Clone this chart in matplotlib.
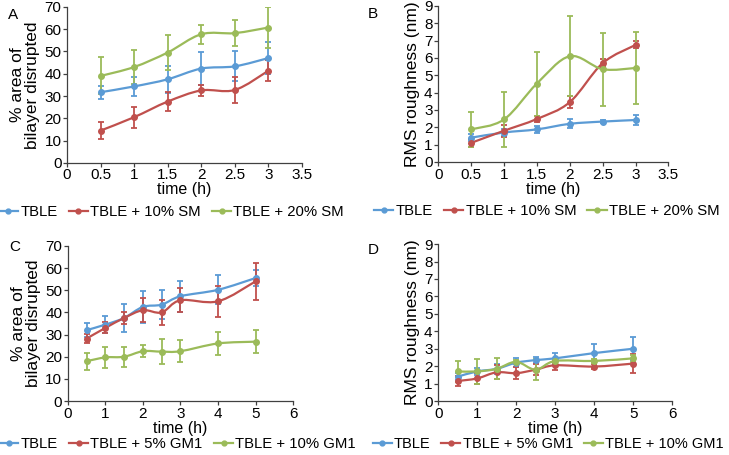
import numpy as np
import matplotlib
matplotlib.use("Agg")
import matplotlib.pyplot as plt
from matplotlib.path import Path
from matplotlib.patches import PathPatch
from matplotlib.lines import Line2D

plt.rcParams["font.family"] = ["Liberation Sans", "DejaVu Sans"]
plt.rcParams["font.size"] = 10

BLUE = "#5b9bd5"
RED = "#c0504d"
GREEN = "#9bbb59"

# panel A / B: SM series
t_sm = [0.5, 1, 1.5, 2, 2.5, 3]
a_tble = [31.7, 34.3, 37.5, 42.3, 43.3, 47.0]
a_tble_err = [3.0, 4.3, 6.0, 7.3, 6.7, 7.2]
a_sm10 = [14.5, 20.5, 27.5, 32.5, 32.7, 41.3]
a_sm10_err = [4.0, 4.7, 4.2, 2.5, 5.7, 4.7]
a_sm20 = [39.0, 43.0, 49.5, 57.7, 58.2, 60.7]
a_sm20_err = [8.3, 7.5, 7.7, 4.2, 5.7, 9.0]

b_tble = [1.4, 1.7, 1.88, 2.2, 2.33, 2.42]
b_tble_err = [0.2, 0.2, 0.22, 0.25, 0.08, 0.3]
b_sm10 = [1.1, 1.8, 2.48, 3.45, 5.7, 6.75]
b_sm10_err = [0.25, 0.35, 0.15, 0.35, 0.25, 0.2]
b_sm20 = [1.88, 2.45, 4.52, 6.1, 5.35, 5.42]
b_sm20_err = [1.0, 1.6, 1.85, 2.3, 2.1, 2.05]

# panel C / D: GM1 series
t_gm = [0.5, 1, 1.5, 2, 2.5, 3, 4, 5]
c_tble = [32.0, 34.5, 37.5, 42.5, 43.5, 47.3, 50.2, 55.5]
c_tble_err = [3.1, 4.0, 6.3, 7.3, 6.6, 7.0, 6.5, 3.8]
c_gm5 = [28.2, 33.0, 37.5, 41.0, 40.0, 45.5, 45.0, 54.0]
c_gm5_err = [2.0, 2.5, 2.5, 5.5, 5.8, 5.5, 7.0, 8.5]
c_gm10 = [18.0, 19.7, 20.0, 22.5, 22.3, 22.5, 26.0, 26.8]
c_gm10_err = [3.8, 4.8, 4.5, 2.7, 5.5, 5.0, 5.3, 5.2]

d_tble = [1.4, 1.7, 1.85, 2.2, 2.35, 2.45, 2.75, 3.0]
d_tble_err = [0.2, 0.2, 0.3, 0.25, 0.15, 0.3, 0.5, 0.65]
d_gm5 = [1.15, 1.3, 1.65, 1.6, 1.8, 2.05, 1.98, 2.15]
d_gm5_err = [0.3, 0.3, 0.4, 0.35, 0.3, 0.25, 0.12, 0.55]
d_gm10 = [1.7, 1.7, 1.85, 2.25, 1.8, 2.3, 2.3, 2.45]
d_gm10_err = [0.6, 0.7, 0.6, 0.1, 0.6, 0.1, 0.1, 0.2]


def smooth_line(ax, x, y, color):
    # excel-like smoothed line: cubic bezier through the points
    x = np.asarray(x, float)
    y = np.asarray(y, float)
    n = len(x)
    verts = [(x[0], y[0])]
    codes = [Path.MOVETO]
    for i in range(n - 1):
        i0 = max(i - 1, 0)
        i3 = min(i + 2, n - 1)
        c1 = (x[i] + (x[i + 1] - x[i0]) / 6, y[i] + (y[i + 1] - y[i0]) / 6)
        c2 = (x[i + 1] - (x[i3] - x[i]) / 6, y[i + 1] - (y[i3] - y[i]) / 6)
        verts += [c1, c2, (x[i + 1], y[i + 1])]
        codes += [Path.CURVE4] * 3
    ax.add_patch(PathPatch(Path(verts, codes), facecolor="none",
                           edgecolor=color, lw=1.6, zorder=2))


def panel(rect, t, series, ylim, yticks, xticks, ylabel):
    ax = fig.add_axes(rect)
    for y, e, c in series:
        ax.errorbar(t, y, yerr=e, fmt="none", ecolor=c, elinewidth=1.3,
                    capsize=2.5, capthick=1.3, zorder=3)
        smooth_line(ax, t, y, c)
        ax.plot(t, y, "o", color=c, ms=4, zorder=4)
    ax.set_xlim(xticks[0], xticks[-1])
    ax.set_ylim(*ylim)
    ax.set_xticks(xticks)
    ax.set_xticklabels([f"{v:g}" for v in xticks])
    ax.set_yticks(yticks)
    ax.spines["top"].set_visible(False)
    ax.spines["right"].set_visible(False)
    for s in ("left", "bottom"):
        ax.spines[s].set_color("#404040")
        ax.spines[s].set_linewidth(0.9)
    ax.tick_params(length=3, width=0.9, color="#404040", labelsize=11, pad=1)
    ax.set_xlabel("time (h)", fontsize=11.5, labelpad=0)
    ax.set_ylabel(ylabel, fontsize=12.5, labelpad=3, linespacing=1.0)
    return ax


fig = plt.figure(figsize=(7.29, 4.55), dpi=100)

sm_labels = ["TBLE", "TBLE + 10% SM", "TBLE + 20% SM"]
gm_labels = ["TBLE", "TBLE + 5% GM1", "TBLE + 10% GM1"]
colors = [BLUE, RED, GREEN]

panel([0.092, 0.642, 0.322, 0.343], t_sm,
      [(a_tble, a_tble_err, BLUE), (a_sm10, a_sm10_err, RED), (a_sm20, a_sm20_err, GREEN)],
      (0, 70), np.arange(0, 71, 10), [0, 0.5, 1, 1.5, 2, 2.5, 3, 3.5],
      "% area of\nbilayer disrupted")
panel([0.601, 0.644, 0.316, 0.343], t_sm,
      [(b_tble, b_tble_err, BLUE), (b_sm10, b_sm10_err, RED), (b_sm20, b_sm20_err, GREEN)],
      (0, 9), np.arange(0, 10, 1), [0, 0.5, 1, 1.5, 2, 2.5, 3, 3.5],
      "RMS roughness (nm)")
panel([0.093, 0.1185, 0.309, 0.341], t_gm,
      [(c_tble, c_tble_err, BLUE), (c_gm5, c_gm5_err, RED), (c_gm10, c_gm10_err, GREEN)],
      (0, 70), np.arange(0, 71, 10), [0, 1, 2, 3, 4, 5, 6],
      "% area of\nbilayer disrupted")
panel([0.601, 0.1185, 0.321, 0.345], t_gm,
      [(d_tble, d_tble_err, BLUE), (d_gm5, d_gm5_err, RED), (d_gm10, d_gm10_err, GREEN)],
      (0, 9), np.arange(0, 10, 1), [0, 1, 2, 3, 4, 5, 6],
      "RMS roughness (nm)")

for letter, x, y in [("A", 0.011, 0.983), ("B", 0.505, 0.985),
                     ("C", 0.013, 0.472), ("D", 0.505, 0.466)]:
    fig.text(x, y, letter, fontsize=11, va="top", ha="left")


def legend(labels, cx, cy, size=10.7):
    handles = [Line2D([], [], color=c, lw=1.6, marker="o", ms=3.5) for c in colors]
    fig.legend(handles, labels, loc="center", bbox_to_anchor=(cx, cy), ncol=3,
               frameon=False, fontsize=size, handlelength=1.3, handletextpad=0.15,
               columnspacing=0.75, borderaxespad=0, borderpad=0)


legend(sm_labels, 0.235, 0.534)
legend(sm_labels, 0.750, 0.536)
legend(gm_labels, 0.2435, 0.024)
legend(gm_labels, 0.752, 0.024, size=10.5)

fig.savefig("out.png", dpi=100)
